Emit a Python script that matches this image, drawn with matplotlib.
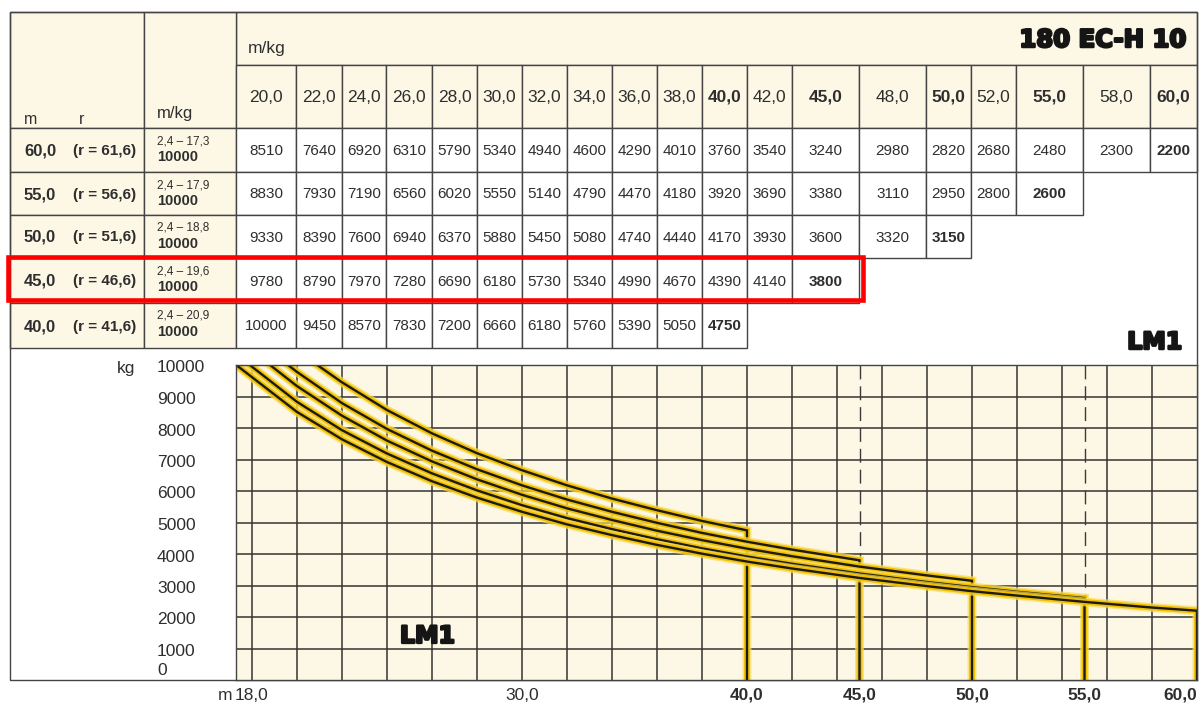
import numpy as np
import matplotlib
matplotlib.use("Agg")
import matplotlib.pyplot as plt
from matplotlib.patches import Rectangle
from matplotlib import patheffects as pe
from matplotlib.transforms import offset_copy

plt.rcParams['font.family'] = ['Liberation Sans', 'DejaVu Sans']

# ---- data ----
title = "180 EC-H 10"
mode = "LM 1"
jib_lengths = [60.0, 55.0, 50.0, 45.0, 40.0]
hook_radius = [61.6, 56.6, 51.6, 46.6, 41.6]
max_load_from = [2.4, 2.4, 2.4, 2.4, 2.4]
max_load_to = [17.3, 17.9, 18.8, 19.6, 20.9]
max_load = [10000, 10000, 10000, 10000, 10000]
radii = [20, 22, 24, 26, 28, 30, 32, 34, 36, 38, 40, 42, 45, 48, 50, 52, 55, 58, 60]
loads_60 = [8510, 7640, 6920, 6310, 5790, 5340, 4940, 4600, 4290, 4010, 3760, 3540, 3240, 2980, 2820, 2680, 2480, 2300, 2200]
loads_55 = [8830, 7930, 7190, 6560, 6020, 5550, 5140, 4790, 4470, 4180, 3920, 3690, 3380, 3110, 2950, 2800, 2600]
loads_50 = [9330, 8390, 7600, 6940, 6370, 5880, 5450, 5080, 4740, 4440, 4170, 3930, 3600, 3320, 3150]
loads_45 = [9780, 8790, 7970, 7280, 6690, 6180, 5730, 5340, 4990, 4670, 4390, 4140, 3800]
loads_40 = [10000, 9450, 8570, 7830, 7200, 6660, 6180, 5760, 5390, 5050, 4750]
all_loads = [loads_60, loads_55, loads_50, loads_45, loads_40]
highlight_jib = 45.0
y_ticks = [0, 1000, 2000, 3000, 4000, 5000, 6000, 7000, 8000, 9000, 10000]
x_labels = [18, 30, 40, 45, 50, 55, 60]

# ---- layout (pixels) ----
W, H = 1203, 704
col_edges = [236, 296, 342, 386, 432, 477, 522, 567, 612, 657, 702, 747, 792,
             859, 926, 971, 1016, 1083, 1150, 1197]
row_edges = [128, 172, 215, 258, 303, 348]
left, c1, c2, right = 10, 144, 236, 1197
top, band, head_bot = 12, 65, 128
chart_top, chart_bot = 365, 680

cream = '#fdf8e6'
line_c = '#444444'
txt_c = '#2e2e2e'


def fmt(v):
    return f"{v:.1f}".replace('.', ',')


fig = plt.figure(figsize=(W / 100, H / 100), dpi=100)
ax = fig.add_axes([0, 0, 1, 1])
ax.set_xlim(0, W)
ax.set_ylim(H, 0)
ax.axis('off')

lw = 1.0
# header blocks
ax.add_patch(Rectangle((c2, top), right - c2, band - top, fc=cream, ec=line_c, lw=lw))
ax.add_patch(Rectangle((left, top), c1 - left, head_bot - top, fc=cream, ec=line_c, lw=lw))
ax.add_patch(Rectangle((c1, top), c2 - c1, head_bot - top, fc=cream, ec=line_c, lw=lw))
for j, r in enumerate(radii):
    x0, x1 = col_edges[j], col_edges[j + 1]
    ax.add_patch(Rectangle((x0, band), x1 - x0, head_bot - band, fc=cream, ec=line_c, lw=lw))
    bold = r in [int(v) for v in jib_lengths]
    ax.text((x0 + x1) / 2, 97, fmt(r), ha='center', va='center', fontsize=12.5,
            color=txt_c, fontweight='bold' if bold else 'normal')

ax.text(248, 48, "m/kg", ha='left', va='center', fontsize=12.5, color=txt_c)
ax.text(24, 124, "m", ha='left', va='baseline', fontsize=11.5, color=txt_c)
ax.text(79, 124, "r", ha='left', va='baseline', fontsize=11.5, color=txt_c)
ax.text(157, 118, "m/kg", ha='left', va='baseline', fontsize=12, color=txt_c)

heavy = [pe.withStroke(linewidth=1.8, foreground='#151515')]
ax.text(1186, 40, title, ha='right', va='center', fontsize=17.5, fontweight='heavy',
        family='DejaVu Sans', color='#151515', path_effects=heavy)
ax.text(1182, 342, mode.replace(' ', ''), ha='right', va='center', fontsize=17,
        fontweight='heavy', family='DejaVu Sans', color='#151515', path_effects=heavy)

# rows
for i, jib in enumerate(jib_lengths):
    y0, y1 = row_edges[i], row_edges[i + 1]
    ym = (y0 + y1) / 2
    ax.add_patch(Rectangle((left, y0), c1 - left, y1 - y0, fc=cream, ec=line_c, lw=lw))
    ax.add_patch(Rectangle((c1, y0), c2 - c1, y1 - y0, fc=cream, ec=line_c, lw=lw))
    ax.text(24, ym + 1, fmt(jib), ha='left', va='center', fontsize=12, fontweight='bold', color=txt_c)
    ax.text(73, ym + 1, f"(r = {fmt(hook_radius[i])})", ha='left', va='center', fontsize=11,
            fontweight='bold', color=txt_c)
    ax.text(157, y0 + 13, f"{fmt(max_load_from[i])} – {fmt(max_load_to[i])}", ha='left',
            va='center', fontsize=8.5, color=txt_c)
    ax.text(157, y0 + 29, f"{max_load[i]}", ha='left', va='center', fontsize=10.5,
            fontweight='bold', color=txt_c)
    loads = all_loads[i]
    for j, v in enumerate(loads):
        x0, x1 = col_edges[j], col_edges[j + 1]
        ax.add_patch(Rectangle((x0, y0), x1 - x0, y1 - y0, fc='white', ec=line_c, lw=lw))
        last = j == len(loads) - 1
        ax.text((x0 + x1) / 2, ym + 1, str(v), ha='center', va='center', fontsize=11,
                color=txt_c, fontweight='bold' if last else 'normal')
    if jib == highlight_jib:
        xr = col_edges[len(loads)] + 4
        ax.add_patch(Rectangle((8, y0 - 1), xr - 8, y1 - y0 - 2, fc='none', ec='#ff0000',
                               lw=3.3, zorder=5))

# outer frame
ax.add_patch(Rectangle((left, top), right - left, chart_bot - top, fc='none', ec=line_c, lw=lw))

# ---- load chart ----
xmin = 18 - (252 - c2) / 22.5
cax = fig.add_axes([c2 / W, 1 - chart_bot / H, (right - c2) / W, (chart_bot - chart_top) / H])
cax.set_facecolor(cream)
cax.set_xlim(xmin, 60)
cax.set_ylim(0, 10000)
cax.set_xticks(np.arange(18, 60, 2))
cax.set_yticks(y_ticks[1:-1])
cax.tick_params(length=0, labelbottom=False, labelleft=False)
cax.grid(True, color='#333333', lw=1.1, zorder=0)
cax.set_axisbelow(True)
for s in cax.spines.values():
    s.set_color(line_c)
    s.set_linewidth(1.0)

# dashed helper lines at odd radii
for i, jib in enumerate(jib_lengths):
    if jib % 2 == 1 and jib != 60:
        cax.plot([jib, jib], [10000, all_loads[i][-1]], color='#3a3a3a', lw=1.0,
                 dashes=(10, 5), zorder=1)

# curves, shortest jib first so longer curves lie on top
for i in reversed(range(len(jib_lengths))):
    loads = all_loads[i]
    xs = [max_load_to[i]]
    ys = [max_load[i]]
    for r, v in zip(radii, loads):
        if r > max_load_to[i]:
            xs.append(r)
            ys.append(v)
    xs.append(xs[-1])
    ys.append(0)
    cax.plot(xs, ys, color='#f8dc5a', lw=6.5, alpha=0.7, solid_joinstyle='miter', zorder=2)
    cax.plot(xs, ys, color='#f0c000', lw=4.2, solid_joinstyle='miter', zorder=2)
    cax.plot(xs, ys, color='#1c1a12', lw=1.7, solid_joinstyle='miter', zorder=2)

cax.text((400 - c2) / (right - c2), 0.14, mode.replace(' ', ''), transform=cax.transAxes,
         ha='left', va='center', fontsize=17, fontweight='heavy', family='DejaVu Sans',
         color='#151515', path_effects=heavy, zorder=3)

# y labels
ytr = cax.get_yaxis_transform()
lab_x = (157 - c2) / (right - c2)
for v in y_ticks:
    if v == 0:
        cax.text(lab_x, v, "0", transform=offset_copy(ytr, fig=fig, y=2, units='dots'),
                 ha='left', va='bottom', fontsize=12.5, color=txt_c, clip_on=False)
    else:
        cax.text(lab_x, v, str(v), transform=offset_copy(ytr, fig=fig, y=-3, units='dots'),
                 ha='left', va='center', fontsize=12.5, color=txt_c, clip_on=False)
cax.text((117 - c2) / (right - c2), 10000, "kg",
         transform=offset_copy(ytr, fig=fig, y=-3, units='dots'),
         ha='left', va='center', fontsize=12.5, color=txt_c, clip_on=False)

# x labels
for r in x_labels:
    bold = r in [int(v) for v in jib_lengths]
    ha = 'right' if r == 60 else 'center'
    cax.annotate(fmt(r), xy=(r, 0), xytext=(0, -15), textcoords='offset pixels',
                 ha=ha, va='center', fontsize=12.5, color=txt_c,
                 fontweight='bold' if bold else 'normal', annotation_clip=False)
cax.annotate("m", xy=(x_labels[0], 0), xytext=(-20, -15), textcoords='offset pixels',
             ha='right', va='center', fontsize=12.5, color=txt_c, annotation_clip=False)

fig.savefig("out.png", dpi=100, facecolor='white')
